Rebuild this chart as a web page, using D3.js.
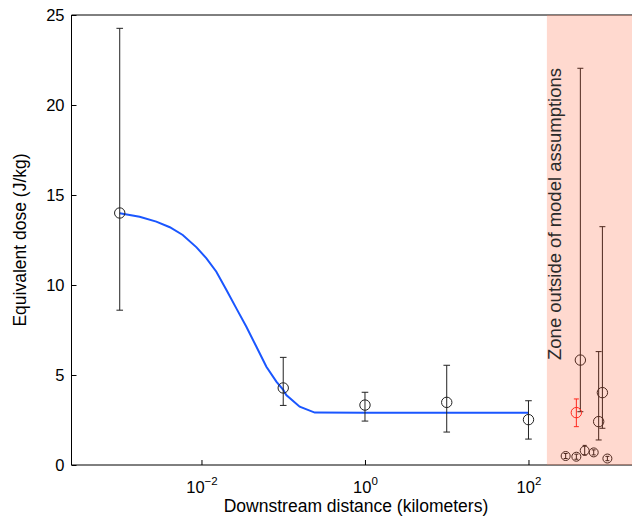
<!DOCTYPE html>
<html>
<head>
<meta charset="utf-8">
<script src="https://cdn.jsdelivr.net/npm/d3@7"></script>
<style>
  html, body { margin: 0; padding: 0; background: #fff; }
  svg { display: block; font-family: "Liberation Sans", Arial, Helvetica, sans-serif; }
</style>
</head>
<body>
<svg id="chart" width="632" height="520"></svg>
<script>
// ---- data ----
const siteDist  = [0.001, 0.1, 1, 10, 100];
const siteDose  = [14.0, 4.28, 3.33, 3.48, 2.52];
const siteLow   = [8.6, 3.31, 2.44, 1.83, 1.44];
const siteHigh  = [24.26, 5.98, 4.04, 5.54, 3.57];

const zoneDist  = [431, 722, 802, 285, 385, 487, 628, 923];
const zoneDose  = [5.83, 2.41, 4.02, 0.50, 0.46, 0.80, 0.70, 0.36];
const zoneLow   = [2.96, 1.39, 2.04, 0.36, 0.32, 0.55, 0.56, 0.24];
const zoneHigh  = [22.04, 6.30, 13.24, 0.64, 0.60, 1.09, 0.84, 0.48];

const redDist = [385];
const redDose = [2.91];
const redLow  = [2.13];
const redHigh = [3.67];

const curveDist = [0.001, 0.00175, 0.0028, 0.0041, 0.0059, 0.0087, 0.0115, 0.0152, 0.0202,
                   0.0267, 0.0354, 0.047, 0.0622, 0.0824, 0.1, 0.109, 0.159, 0.243, 1, 10, 100];
const curveDose = [13.98, 13.79, 13.52, 13.21, 12.78, 12.09, 11.48, 10.74, 9.72,
                   8.70, 7.68, 6.57, 5.46, 4.63, 4.17, 3.89, 3.24, 2.91, 2.90, 2.90, 2.90];

const zoneStart = 168;
const yTicks = [0, 5, 10, 15, 20, 25];
const xTicks = [0.01, 1, 100];
const xTickExp = ["\u22122", "0", "2"];

// ---- layout ----
const W = 632, H = 520;
const mLeft = 71.5, mTop = 15, mBottom = 465, mRightEnd = 643.75;
const svg = d3.select("#chart");

const x = d3.scaleLog().domain([Math.pow(10, -3.59), Math.pow(10, 3.41)]).range([mLeft, mRightEnd]);
const y = d3.scaleLinear().domain([0, 25]).range([mBottom, mTop]);

// axes
const yAxis = d3.axisLeft(y).tickValues(yTicks).tickSize(-5).tickPadding(7).tickFormat(d3.format("d"));
const gy = svg.append("g").attr("transform", `translate(${mLeft},0)`).call(yAxis);
gy.select(".domain").remove();
gy.selectAll("line").attr("stroke", "#000");
gy.selectAll("text").attr("font-size", 16.5).attr("fill", "#000").attr("font-family", "Liberation Sans, Arial, sans-serif");

const xAxis = d3.axisBottom(x).tickValues(xTicks).tickSize(-5).tickPadding(8).tickFormat(() => "");
const gx = svg.append("g").attr("transform", `translate(0,${mBottom})`).call(xAxis);
gx.select(".domain").remove();
gx.selectAll("line").attr("stroke", "#000");
gx.selectAll(".tick").each(function(d, i) {
  const t = d3.select(this).select("text");
  t.attr("y", 28).attr("dy", null).attr("font-size", 16.5).attr("fill", "#000")
   .attr("font-family", "Liberation Sans, Arial, sans-serif").attr("text-anchor", "middle");
  t.append("tspan").text("10");
  t.append("tspan").attr("dy", -8).attr("font-size", 11.5).text(xTickExp[i]);
});

// frame lines
svg.append("line").attr("x1", mLeft).attr("x2", mLeft).attr("y1", mTop).attr("y2", mBottom)
  .attr("stroke", "#000").attr("stroke-width", 1);
svg.append("line").attr("x1", mLeft).attr("x2", W).attr("y1", mBottom).attr("y2", mBottom)
  .attr("stroke", "#000").attr("stroke-width", 1);
svg.append("line").attr("x1", mLeft).attr("x2", W).attr("y1", mTop).attr("y2", mTop)
  .attr("stroke", "#000").attr("stroke-width", 1);

// axis labels
svg.append("text").attr("x", 356).attr("y", 512).attr("text-anchor", "middle")
  .attr("font-size", 17.5).attr("fill", "#000").text("Downstream distance (kilometers)");
svg.append("text").attr("transform", `translate(26,${(mTop + mBottom) / 2}) rotate(-90)`)
  .attr("text-anchor", "middle").attr("font-size", 17.5).attr("fill", "#000")
  .text("Equivalent dose (J/kg)");

// model curve
const line = d3.line().x((d, i) => x(curveDist[i])).y((d, i) => y(curveDose[i]));
svg.append("path").datum(curveDose).attr("d", line)
  .attr("fill", "none").attr("stroke", "#1a56ff").attr("stroke-width", 2);

// error bars + markers
function drawSeries(dist, dose, lo, hi, color, r, cap) {
  const g = svg.append("g").attr("stroke", color).attr("fill", "none").attr("stroke-width", 1);
  dist.forEach((d, i) => {
    const cx = x(d);
    g.append("line").attr("x1", cx).attr("x2", cx).attr("y1", y(lo[i])).attr("y2", y(hi[i]));
    g.append("line").attr("x1", cx - cap).attr("x2", cx + cap).attr("y1", y(lo[i])).attr("y2", y(lo[i]));
    g.append("line").attr("x1", cx - cap).attr("x2", cx + cap).attr("y1", y(hi[i])).attr("y2", y(hi[i]));
    g.append("circle").attr("cx", cx).attr("cy", y(dose[i])).attr("r", r);
  });
}
drawSeries(siteDist, siteDose, siteLow, siteHigh, "#222", 5.2, 3.3);
drawSeries(zoneDist.slice(0, 3), zoneDose.slice(0, 3), zoneLow.slice(0, 3), zoneHigh.slice(0, 3), "#000", 5.2, 3);
drawSeries(zoneDist.slice(3), zoneDose.slice(3), zoneLow.slice(3), zoneHigh.slice(3), "#000", 4.5, 2);
drawSeries(redDist, redDose, redLow, redHigh, "#ff0000", 5.2, 2.5);

// zone overlay
svg.append("rect").attr("x", x(zoneStart)).attr("y", mTop)
  .attr("width", W - x(zoneStart)).attr("height", mBottom - mTop)
  .attr("fill", "rgb(255,128,96)").attr("fill-opacity", 0.3);

svg.append("text").attr("transform", `translate(561,360) rotate(-90)`)
  .attr("text-anchor", "start").attr("font-size", 18.5).attr("fill", "#2a2a2a")
  .text("Zone outside of model assumptions");
</script>
</body>
</html>
